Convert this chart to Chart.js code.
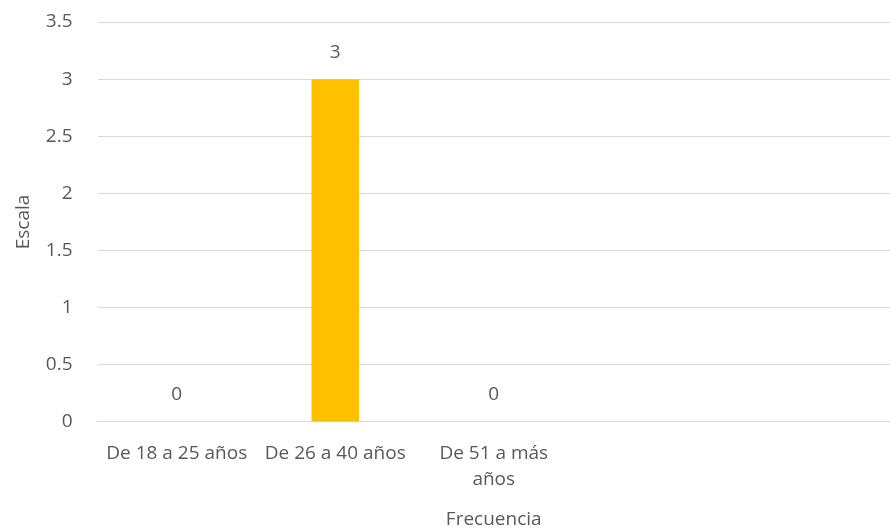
<!DOCTYPE html>
<html>
<head>
<meta charset="utf-8">
<script src="https://cdn.jsdelivr.net/npm/chart.js@4"></script>
<style>
  html, body { margin: 0; padding: 0; background: #fff; }
  #wrap { width: 890px; height: 531px; }
</style>
</head>
<body>
<div id="wrap"><canvas id="grafico"></canvas></div>
<script>
const categorias = ["De 18 a 25 años", "De 26 a 40 años", ["De 51 a más", "años"], "", ""];
const valores = [0, 3, 0, null, null];
const ticksY = [0, 0.5, 1, 1.5, 2, 2.5, 3, 3.5];

const gris = "#595959";
const fuente = "'Open Sans', sans-serif";

// etiquetas de valor encima de cada barra
const etiquetas = {
  id: "etiquetas",
  afterDatasetsDraw(chart) {
    const ctx = chart.ctx;
    const meta = chart.getDatasetMeta(0);
    ctx.save();
    ctx.fillStyle = gris;
    ctx.font = "19px " + fuente;
    ctx.textAlign = "center";
    ctx.textBaseline = "middle";
    meta.data.forEach((bar, i) => {
      const v = valores[i];
      if (v === null) return;
      ctx.fillText(String(v), bar.x, bar.y - 27);
    });
    ctx.restore();
  }
};

new Chart(document.getElementById("grafico"), {
  type: "bar",
  data: {
    labels: categorias,
    datasets: [{
      data: valores,
      backgroundColor: "#FFC000",
      categoryPercentage: 1,
      barPercentage: 0.3
    }]
  },
  options: {
    responsive: true,
    maintainAspectRatio: false,
    animation: false,
    layout: { padding: { top: 22, right: 0, left: 12, bottom: 0 } },
    plugins: {
      legend: { display: false },
      tooltip: { enabled: false }
    },
    scales: {
      x: {
        grid: { display: false },
        border: { color: "#d9d9d9" },
        ticks: {
          color: gris,
          font: { family: fuente, size: 19, lineHeight: 1.35 },
          maxRotation: 0,
          autoSkip: false,
          padding: 11
        },
        title: {
          display: true,
          text: "Frecuencia",
          color: gris,
          font: { family: fuente, size: 19 },
          padding: { top: 5, bottom: 0 }
        }
      },
      y: {
        min: 0,
        max: 3.5,
        afterBuildTicks: (axis) => { axis.ticks = ticksY.map(v => ({ value: v })); },
        grid: { color: "#d9d9d9", drawTicks: true, tickLength: 21, tickColor: "rgba(0,0,0,0)" },
        border: { display: false },
        ticks: {
          color: gris,
          font: { family: fuente, size: 19 },
          padding: 4,
          callback: (v) => String(v)
        },
        title: {
          display: true,
          text: "Escala",
          color: gris,
          font: { family: fuente, size: 19 },
          padding: { top: 0, bottom: 7 }
        }
      }
    }
  },
  plugins: [etiquetas]
});
</script>
</body>
</html>
